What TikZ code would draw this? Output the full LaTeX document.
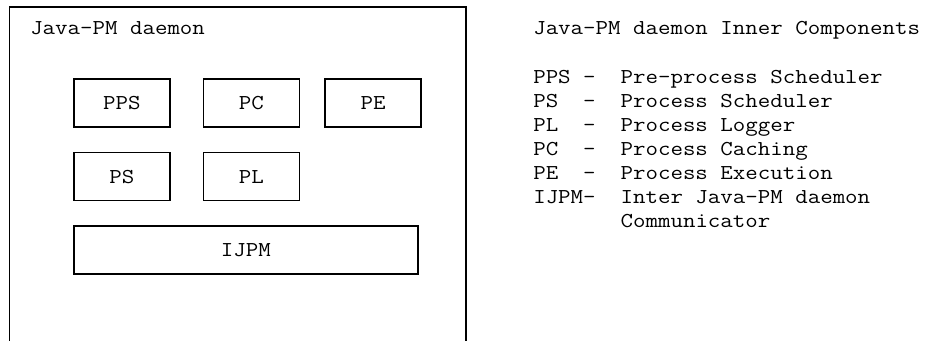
\documentclass[tikz,border=0pt]{standalone}
\usepackage{fontspec}
\setmainfont{Latin Modern Mono}[FakeStretch=1.143]
\usetikzlibrary{positioning}
\tikzset{
  comp/.style = {rectangle, draw=black, line width=1.2pt,
    minimum width=72pt, minimum height=36pt, inner sep=0pt},
  lbl/.style = {anchor=base west, inner sep=0pt},
}

\begin{document}
\begin{tikzpicture}[x=0.75pt, y=-0.75pt, node distance=18pt,
    font=\fontsize{15.9}{18}\selectfont]
        \useasboundingbox (0,0) rectangle (932,341);

        % --- daemon frame (open at the bottom) ---
        \draw [line width=1.1pt] (9.5,341) -- (9.5,7) -- (466,7) -- (466,341);
        \node (daemon) [lbl] at (30,35) {Java-PM daemon};

        % --- components ---
        \node (pps) [comp] at (121.85,103) {PPS};
        \node (pc) [comp, right=24pt of pps] {PC};
        \node (pe) [comp, right=of pc] {PE};
        \node (ps) [comp, below=of pps] {PS};
        \node (pl) [comp, below=of pc] {PL};
        \node (ijpm) [comp, below=of ps.south west, anchor=north west,
          minimum width=258pt] {IJPM};

        % --- legend ---
        \node (legend) [lbl] at (533,35) {Java-PM daemon Inner Components};
        \node (l_pps) [lbl] at (533,83.3) {PPS~–~~Pre-process Scheduler};
        \node (l_ps) [lbl] at (533,107.3) {PS~~–~~Process Scheduler};
        \node (l_pl) [lbl] at (533,131.3) {PL~~–~~Process Logger};
        \node (l_pc) [lbl] at (533,155.3) {PC~~–~~Process Caching};
        \node (l_pe) [lbl] at (533,179.3) {PE~~–~~Process Execution};
        \node (l_ijpm) [lbl] at (533,203.3) {IJPM–~~Inter Java-PM daemon};
        \node (l_comm) [lbl] at (533,227.3) {~~~~~~~Communicator};

    \end{tikzpicture}
\end{document}
